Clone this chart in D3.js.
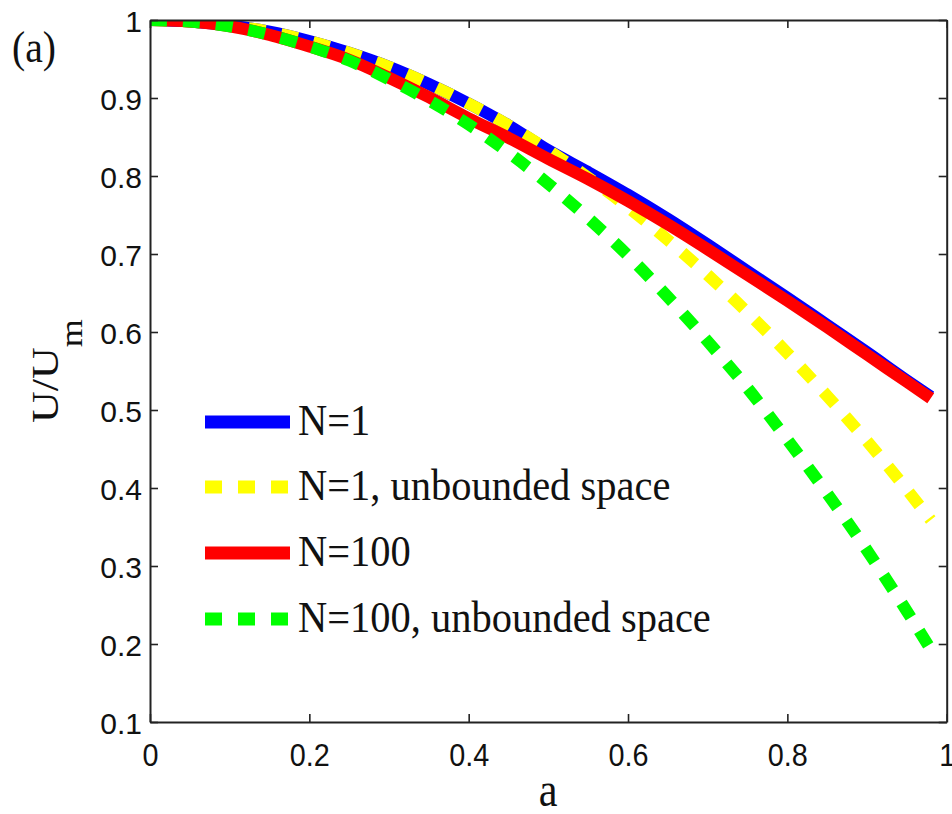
<!DOCTYPE html>
<html>
<head>
<meta charset="utf-8">
<script src="https://cdn.jsdelivr.net/npm/d3@7"></script>
<style>
  html, body { margin: 0; padding: 0; background: #fff; }
  svg { display: block; }
</style>
</head>
<body>
<svg id="chart" width="952" height="814"></svg>
<script>
// ---- data ----
const aValues = [0, 0.05, 0.1, 0.15, 0.2, 0.25, 0.3, 0.35, 0.4, 0.45, 0.5, 0.55, 0.6, 0.65, 0.7, 0.75, 0.8, 0.85, 0.9, 0.95, 0.98];
const seriesN1          = [1, 0.998, 0.993, 0.985, 0.973, 0.958, 0.940, 0.918, 0.893, 0.865, 0.833, 0.805, 0.776, 0.745, 0.712, 0.678, 0.644, 0.609, 0.574, 0.538, 0.517];
const seriesN1Unbounded = [1, 0.998, 0.993, 0.985, 0.973, 0.958, 0.940, 0.918, 0.893, 0.865, 0.833, 0.798, 0.760, 0.718, 0.673, 0.625, 0.573, 0.518, 0.460, 0.398, 0.359];
const seriesN100        = [1, 0.998, 0.992, 0.981, 0.966, 0.949, 0.926, 0.901, 0.874, 0.849, 0.822, 0.796, 0.768, 0.738, 0.706, 0.673, 0.640, 0.606, 0.571, 0.536, 0.515];
const seriesN100Unbounded = [1, 0.998, 0.992, 0.981, 0.966, 0.948, 0.924, 0.897, 0.866, 0.830, 0.790, 0.746, 0.698, 0.645, 0.588, 0.528, 0.462, 0.393, 0.320, 0.242, 0.193];
const seriesNames = ["N=1", "N=1, unbounded space", "N=100", "N=100, unbounded space"];
const xTicks = [0, 0.2, 0.4, 0.6, 0.8, 1];
const yTicks = [0.1, 0.2, 0.3, 0.4, 0.5, 0.6, 0.7, 0.8, 0.9, 1];

// ---- styles ----
const seriesStyles = [
  { color: "#0000ff", dash: null },
  { color: "#ffff00", dash: "17,16" },
  { color: "#ff0000", dash: null },
  { color: "#00ff00", dash: "17,16" }
];
const allSeries = [seriesN1, seriesN1Unbounded, seriesN100, seriesN100Unbounded];

const plotLeft = 150, plotRight = 946.7, plotTop = 20, plotBottom = 722;
const svg = d3.select("#chart");

const x = d3.scaleLinear().domain([0, 1]).range([plotLeft, plotRight]);
const y = d3.scaleLinear().domain([0.1, 1]).range([plotBottom, plotTop]);

svg.append("defs").append("clipPath").attr("id", "plotclip")
  .append("rect").attr("x", plotLeft).attr("y", plotTop)
  .attr("width", plotRight - plotLeft).attr("height", plotBottom - plotTop);

// ---- lines ----
const line = d3.line().x(d => x(d[0])).y(d => y(d[1])).curve(d3.curveMonotoneX);
const plot = svg.append("g").attr("clip-path", "url(#plotclip)");
allSeries.forEach((s, i) => {
  const pts = aValues.map((a, j) => [a, s[j]]);
  plot.append("path")
    .attr("d", line(pts))
    .attr("fill", "none")
    .attr("stroke", seriesStyles[i].color)
    .attr("stroke-width", 12)
    .attr("stroke-linecap", "butt")
    .attr("stroke-linejoin", "round")
    .attr("stroke-dasharray", seriesStyles[i].dash);
});

// ---- axes ----
const axisColor = "#222";
function styleAxis(g) {
  g.select(".domain").attr("stroke", axisColor).attr("stroke-width", 2);
  g.selectAll(".tick line").attr("stroke", axisColor).attr("stroke-width", 1.6);
}
const xAxisB = d3.axisBottom(x).tickValues(xTicks).tickSizeInner(-8).tickSizeOuter(0).tickPadding(21)
  .tickFormat(d3.format("~g"));
const gxb = svg.append("g").attr("transform", `translate(0,${plotBottom})`).call(xAxisB);
styleAxis(gxb);
gxb.attr("font-family", "'Liberation Sans', Arial, sans-serif").attr("font-size", 32);
gxb.selectAll(".tick text").attr("fill", "#111").attr("transform", "scale(0.9,1)");

const xAxisT = d3.axisTop(x).tickValues(xTicks).tickSizeInner(-8).tickSizeOuter(0).tickFormat("");
const gxt = svg.append("g").attr("transform", `translate(0,${plotTop})`).call(xAxisT);
styleAxis(gxt);

const yAxisL = d3.axisLeft(y).tickValues(yTicks).tickSizeInner(-8).tickSizeOuter(0).tickPadding(8)
  .tickFormat(d3.format("~g"));
const gyl = svg.append("g").attr("transform", `translate(${plotLeft},0)`).call(yAxisL);
styleAxis(gyl);
gyl.attr("font-family", "'Liberation Sans', Arial, sans-serif").attr("font-size", 30);
gyl.selectAll(".tick text").attr("fill", "#111").attr("dy", "0.38em");

const yAxisR = d3.axisRight(y).tickValues(yTicks).tickSizeInner(-8).tickSizeOuter(0).tickFormat("");
const gyr = svg.append("g").attr("transform", `translate(${plotRight},0)`).call(yAxisR);
styleAxis(gyr);

// ---- axis titles ----
svg.append("text")
  .attr("transform", "translate(548,806) scale(0.88,1)")
  .attr("text-anchor", "middle")
  .attr("font-family", "'Liberation Serif', 'Times New Roman', serif")
  .attr("font-size", 48).attr("fill", "#111")
  .text("a");

const yl = svg.append("text")
  .attr("transform", "translate(58,423) scale(0.88,1) rotate(-90)")
  .attr("text-anchor", "start")
  .attr("font-family", "'Liberation Serif', 'Times New Roman', serif")
  .attr("font-size", 44).attr("fill", "#111");
yl.append("tspan").text("U/U");
yl.append("tspan").attr("dy", 27).attr("font-size", 36).text("m");

svg.append("text")
  .attr("transform", "translate(12,62) scale(0.9,1)")
  .attr("font-family", "'Liberation Serif', 'Times New Roman', serif")
  .attr("font-size", 44).attr("fill", "#111")
  .text("(a)");

// ---- legend ----
const legendRows = [422, 487, 553, 619];
const legend = svg.append("g");
seriesNames.forEach((name, i) => {
  const ry = legendRows[i];
  legend.append("line")
    .attr("x1", 205).attr("x2", 290).attr("y1", ry).attr("y2", ry)
    .attr("stroke", seriesStyles[i].color)
    .attr("stroke-width", 13)
    .attr("stroke-dasharray", seriesStyles[i].dash);
  legend.append("text")
    .attr("transform", `translate(298,${ry + 13}) scale(0.92,1)`)
    .attr("font-family", "'Liberation Serif', 'Times New Roman', serif")
    .attr("font-size", 44).attr("fill", "#111")
    .text(name);
});
</script>
</body>
</html>
